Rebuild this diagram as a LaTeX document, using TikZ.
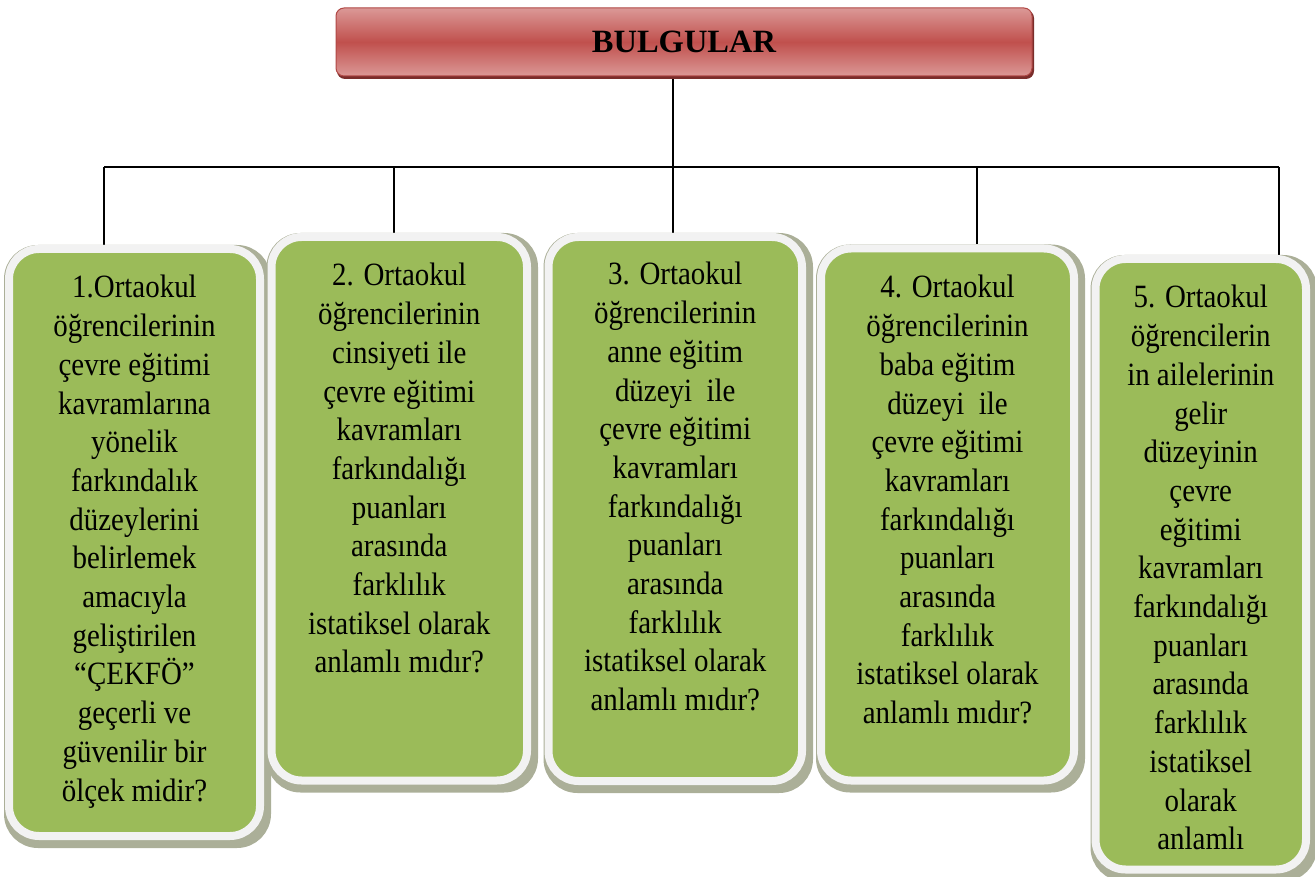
\documentclass[tikz,border=0pt]{standalone}
\usepackage{fontspec}
\setmainfont{Liberation Serif}
\newfontfamily\bodyfont{Liberation Serif}[FakeStretch=0.89]
\usetikzlibrary{backgrounds}
\definecolor{boxgreen}{HTML}{9BBB59}
\definecolor{boxrim}{HTML}{F2F2F2}
\definecolor{boxshadow}{HTML}{ABAF98}
\definecolor{redlight}{HTML}{DB9896}
\definecolor{redmid}{HTML}{C0504D}
\definecolor{rededge}{HTML}{B04845}
\definecolor{redshadow}{HTML}{7A2D2B}
\begin{document}
\begin{tikzpicture}[x=1pt, y=-1pt,
  qbox/.style={draw=boxrim, fill=boxgreen, line width=8pt, rounded corners=30pt, inner sep=0pt},
  qshadow/.style={draw=boxshadow, fill=boxshadow, line width=8pt, rounded corners=30pt},
  titlebox/.style={draw=rededge, line width=1pt, rounded corners=8pt,
    top color=redlight, bottom color=redlight, middle color=redmid,
    minimum width=696pt, minimum height=68pt, inner sep=0pt,
    font=\bfseries\fontsize{32.5}{38}\selectfont},
  txt/.style={anchor=base, inner sep=0pt, font=\bodyfont\fontsize{32.5}{38.7}\selectfont},
  conn/.style={draw=black, line width=1.4pt}
]
\path[use as bounding box] (0,0) rectangle (1315,877);

% title
\node[titlebox] (title) at (684,42) {BULGULAR};

% question boxes
\node[qbox, minimum width=251pt, minimum height=587pt] (b1) at (134.5,542.5) {};
\node[qbox, minimum width=255.5pt, minimum height=543.5pt] (b2) at (399.25,508.75) {};
\node[qbox, minimum width=253.5pt, minimum height=544pt] (b3) at (675.25,509) {};
\node[qbox, minimum width=253pt, minimum height=532pt] (b4) at (947.5,514.5) {};
\node[qbox, minimum width=210.5pt, minimum height=610.5pt] (b5) at (1200.75,564.25) {};

% texts
\node[txt] (t1) at (b1.center |- 0,298) {\parbox[t]{300pt}{\centering
1.Ortaokul\\ öğrencilerinin\\ çevre eğitimi\\ kavramlarına\\ yönelik\\ farkındalık\\ düzeylerini\\ belirlemek\\ amacıyla\\ geliştirilen\\ “ÇEKFÖ”\\ geçerli ve\\ güvenilir bir\\ ölçek midir?}};
\node[txt] (t2) at (b2.center |- 0,286) {\parbox[t]{300pt}{\centering
2. Ortaokul\\ öğrencilerinin\\ cinsiyeti ile\\ çevre eğitimi\\ kavramları\\ farkındalığı\\ puanları\\ arasında\\ farklılık\\ istatiksel olarak\\ anlamlı mıdır?}};
\node[txt] (t3) at (b3.center |- 0,285) {\parbox[t]{300pt}{\centering
3. Ortaokul\\ öğrencilerinin\\ anne eğitim\\ düzeyi~ ile\\ çevre eğitimi\\ kavramları\\ farkındalığı\\ puanları\\ arasında\\ farklılık\\ istatiksel olarak\\ anlamlı mıdır?}};
\node[txt] (t4) at (b4.center |- 0,298) {\parbox[t]{300pt}{\centering
4. Ortaokul\\ öğrencilerinin\\ baba eğitim\\ düzeyi~ ile\\ çevre eğitimi\\ kavramları\\ farkındalığı\\ puanları\\ arasında\\ farklılık\\ istatiksel olarak\\ anlamlı mıdır?}};
\node[txt] (t5) at (b5.center |- 0,308) {\parbox[t]{300pt}{\centering
5. Ortaokul\\ öğrencilerin\\ in ailelerinin\\ gelir\\ düzeyinin\\ çevre\\ eğitimi\\ kavramları\\ farkındalığı\\ puanları\\ arasında\\ farklılık\\ istatiksel\\ olarak\\ anlamlı}};

% junction points
\coordinate (hub) at (673,167);
\coordinate (d1) at (104,167);
\coordinate (d2) at (394,167);
\coordinate (d4) at (977,167);
\coordinate (d5) at (1279,167);

\begin{scope}[on background layer]
  \draw[conn] (title.south -| hub) -- (hub);
  \draw[conn] (d1) -- (d5);
  \draw[conn] (d1) -- (d1 |- b1.north);
  \draw[conn] (d2) -- (d2 |- b2.north);
  \draw[conn] (hub) -- (hub |- b3.north);
  \draw[conn] (d4) -- (d4 |- b4.north);
  \draw[conn] (d5) -- (d5 |- b5.north);
  \foreach \b in {b1,b2,b3,b4,b5}
    \draw[qshadow] ([shift={(3,4)}]\b.south west) rectangle ([shift={(3,4)}]\b.north east);
  \fill[redshadow, rounded corners=8pt] ([shift={(1.5,2.5)}]title.south west) rectangle ([shift={(1.5,2.5)}]title.north east);
\end{scope}
\end{tikzpicture}
\end{document}
